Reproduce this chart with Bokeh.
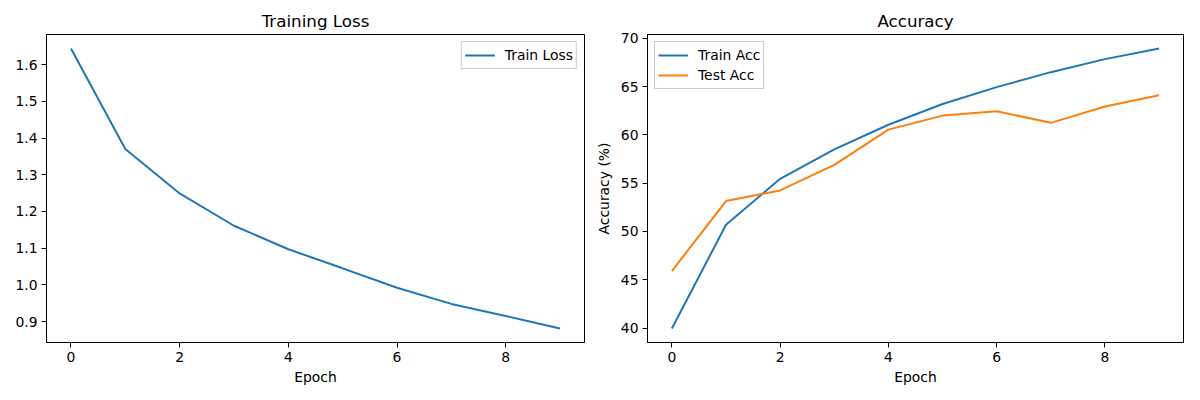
from bokeh.plotting import figure
from bokeh.layouts import row
from bokeh.models import FixedTicker, PrintfTickFormatter, Range1d, Legend, LegendItem
from bokeh.embed import file_html
from bokeh.resources import INLINE

epochs = [0, 1, 2, 3, 4, 5, 6, 7, 8, 9]
train_loss = [1.644, 1.370, 1.249, 1.161, 1.097, 1.045, 0.992, 0.948, 0.915, 0.881]
train_acc = [39.95, 50.69, 55.45, 58.50, 61.05, 63.20, 64.95, 66.50, 67.85, 68.95]
test_acc = [45.90, 53.15, 54.25, 56.90, 60.55, 62.00, 62.45, 61.25, 62.95, 64.10]

x_ticks = [0, 2, 4, 6, 8]
loss_ticks = [0.9, 1.0, 1.1, 1.2, 1.3, 1.4, 1.5, 1.6]
acc_ticks = [40, 45, 50, 55, 60, 65, 70]

BLUE = "#1f77b4"
ORANGE = "#ff7f0e"
FONT = "DejaVu Sans"


def pad_range(vals, frac=0.05):
    lo, hi = min(vals), max(vals)
    m = (hi - lo) * frac
    return Range1d(lo - m, hi + m)


def style(p, yticks, fmt):
    p.title.text_font = FONT
    p.title.text_font_size = "16.7px"
    p.title.text_font_style = "normal"
    p.title.align = "center"
    p.title.text_color = "black"
    p.title.standoff = 7
    p.outline_line_color = "black"
    p.outline_line_alpha = 1
    p.outline_line_width = 1
    p.xgrid.visible = False
    p.ygrid.visible = False
    p.xaxis.ticker = FixedTicker(ticks=x_ticks)
    p.yaxis.ticker = FixedTicker(ticks=yticks)
    p.yaxis.formatter = PrintfTickFormatter(format=fmt)
    for ax in (p.xaxis[0], p.yaxis[0]):
        ax.major_label_text_font = FONT
        ax.major_label_text_font_size = "13.9px"
        ax.major_label_text_color = "black"
        ax.axis_label_text_font = FONT
        ax.axis_label_text_font_size = "13.9px"
        ax.axis_label_text_font_style = "normal"
        ax.axis_label_text_color = "black"
        ax.axis_line_color = "black"
        ax.major_tick_line_color = "black"
        ax.major_tick_out = 5
        ax.major_tick_in = 0
        ax.minor_tick_line_color = None
    p.xaxis.major_label_standoff = 4
    p.yaxis.major_label_standoff = 4
    p.xaxis.axis_label = "Epoch"
    p.xaxis.axis_label_standoff = 4


def legend_style(lg):
    lg.label_text_font = FONT
    lg.label_text_font_size = "13.9px"
    lg.label_text_color = "black"
    lg.border_line_color = "#cccccc"
    lg.border_line_alpha = 1
    lg.background_fill_alpha = 0.8
    lg.margin = 7
    lg.padding = 3
    lg.spacing = 0
    lg.glyph_width = 30
    lg.glyph_height = 20
    lg.label_height = 20
    lg.label_standoff = 10


p1 = figure(width=592, height=388, title="Training Loss", output_backend="svg",
            toolbar_location=None, x_range=pad_range(epochs), y_range=pad_range(train_loss),
            min_border_left=46, min_border_right=8, min_border_top=34, min_border_bottom=46)
style(p1, loss_ticks, "%.1f")
r1 = p1.line(epochs, train_loss, line_color=BLUE, line_width=2)
lg1 = Legend(items=[LegendItem(label="Train Loss", renderers=[r1])], location="top_right")
legend_style(lg1)
p1.add_layout(lg1)

p2 = figure(width=592, height=388, title="Accuracy", output_backend="svg",
            toolbar_location=None, x_range=pad_range(epochs),
            y_range=pad_range(train_acc + test_acc),
            min_border_left=53, min_border_right=1, min_border_top=34, min_border_bottom=46)
style(p2, acc_ticks, "%d")
p2.yaxis.axis_label = "Accuracy (%)"
p2.yaxis.axis_label_standoff = 6
r2 = p2.line(epochs, train_acc, line_color=BLUE, line_width=2)
r3 = p2.line(epochs, test_acc, line_color=ORANGE, line_width=2)
lg2 = Legend(items=[LegendItem(label="Train Acc", renderers=[r2]),
                    LegendItem(label="Test Acc", renderers=[r3])], location="top_left")
legend_style(lg2)
p2.add_layout(lg2)

layout = row(p1, p2)
open("out.html", "w").write(file_html(layout, INLINE))
